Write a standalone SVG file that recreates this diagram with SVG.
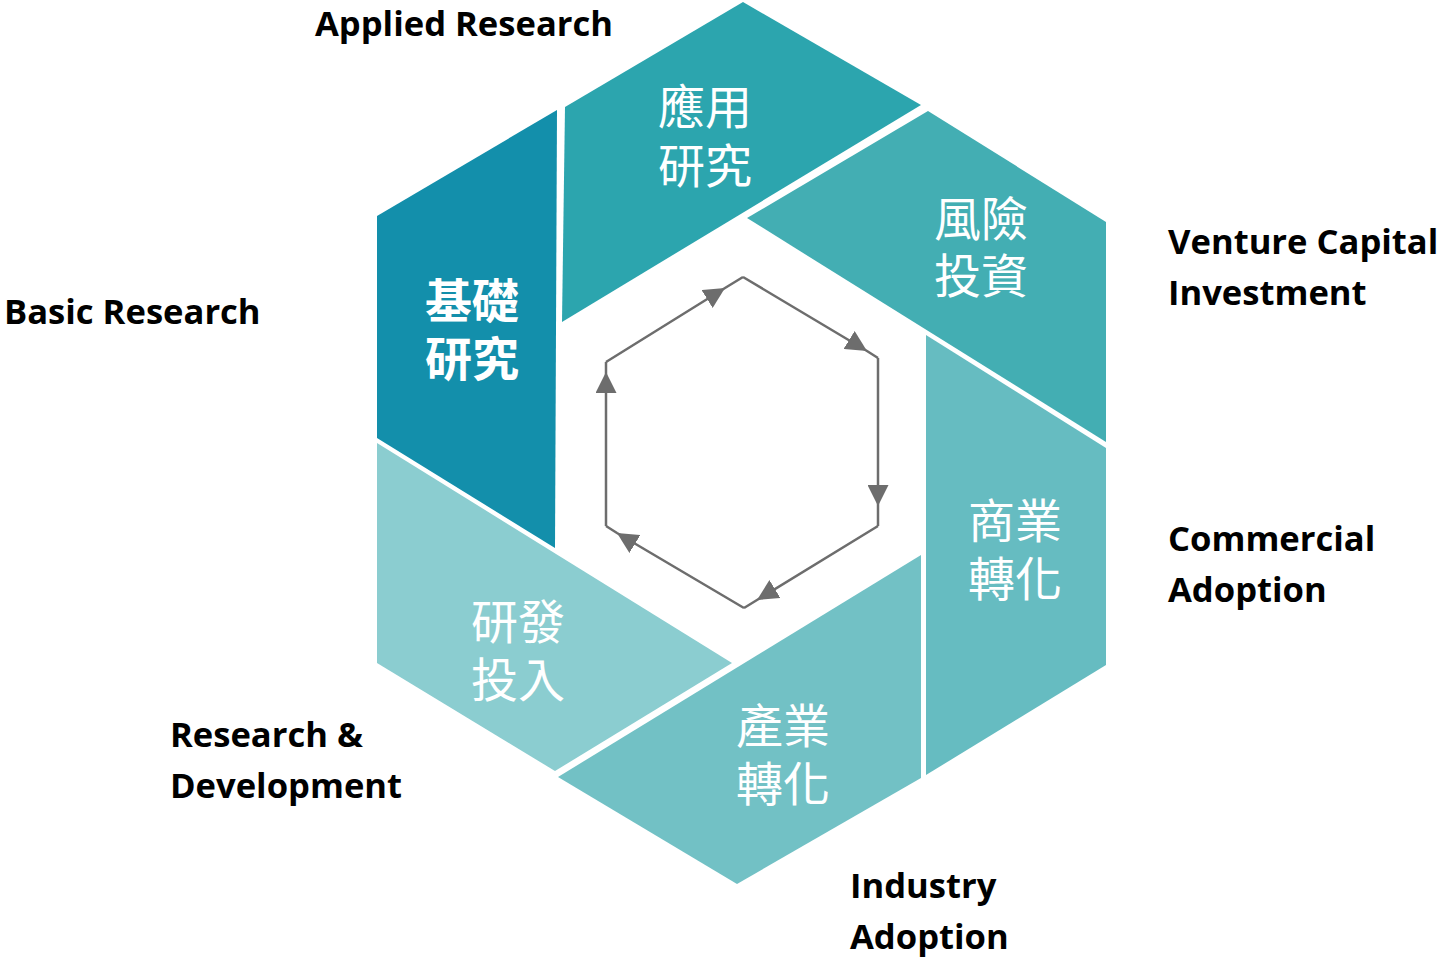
<svg xmlns="http://www.w3.org/2000/svg" width="1441" height="958" viewBox="0 0 1441 958">
<style>
.lbl{font-family:"Open Sans","Liberation Sans",sans-serif;font-weight:700;font-size:34.6px;fill:#000}
.zh{font-family:"Noto Sans CJK TC","Noto Sans CJK SC",sans-serif;font-size:47px;fill:#fff;text-anchor:middle}
.zhb{font-weight:700}
.edge{fill:none;stroke:#6d6d6d;stroke-width:2.5;marker-mid:url(#arr)}
</style>
<defs>
<marker id="arr" viewBox="0 0 10 10" refX="10" refY="5" markerUnits="userSpaceOnUse" markerWidth="21" markerHeight="21" orient="auto">
<path d="M0,0 L10,5 L0,10 z" fill="#6d6d6d"/>
</marker>
</defs>
<rect width="1441" height="958" fill="#fff"/>
<g id="basic">
<polygon points="377,216 557,110 555,548 377,438" fill="#138fab"/>
<text class="zh zhb" x="472" y="318">基礎<tspan x="472" y="376">研究</tspan></text>
</g>
<g id="applied">
<polygon points="565,107 743,2 921,105 562,322" fill="#2ca5ae"/>
<text class="zh" x="705" y="124">應用<tspan x="705" y="183">研究</tspan></text>
</g>
<g id="venture">
<polygon points="928,111 1106,222 1106,442 747,218" fill="#43aeb3"/>
<text class="zh" x="981" y="236">風險<tspan x="981" y="293">投資</tspan></text>
</g>
<g id="commercial">
<polygon points="926,335 1106,448 1106,665 926,775" fill="#66bcc1"/>
<text class="zh" x="1015" y="538">商業<tspan x="1015" y="596">轉化</tspan></text>
</g>
<g id="industry">
<polygon points="921,555 921,778 737,884 558,777" fill="#72c1c5"/>
<text class="zh" x="783" y="743">產業<tspan x="783" y="801">轉化</tspan></text>
</g>
<g id="rnd">
<polygon points="377,443 732,663 555,771 377,663" fill="#8bcdd0"/>
<text class="zh" x="518" y="639">研發<tspan x="518" y="697">投入</tspan></text>
</g>
<g id="connectors">
<path class="edge" d="M606,362 L725,288 L743,277"/>
<path class="edge" d="M743,277 L867,351 L878,358"/>
<path class="edge" d="M878,358 L878,506 L878,526"/>
<path class="edge" d="M878,526 L757,600 L744,608"/>
<path class="edge" d="M744,608 L617,533 L606,526"/>
<path class="edge" d="M606,526 L606,372 L606,362"/>
</g>
<g id="labels">
<text class="lbl" x="315" y="36">Applied Research</text>
<text class="lbl" x="4" y="324">Basic Research</text>
<text class="lbl" x="1168" y="254">Venture Capital<tspan x="1168" y="305">Investment</tspan></text>
<text class="lbl" x="1168" y="551">Commercial<tspan x="1168" y="602">Adoption</tspan></text>
<text class="lbl" x="170" y="747">Research &amp;<tspan x="170" y="798">Development</tspan></text>
<text class="lbl" x="850" y="898">Industry<tspan x="850" y="949">Adoption</tspan></text>
</g>
</svg>
